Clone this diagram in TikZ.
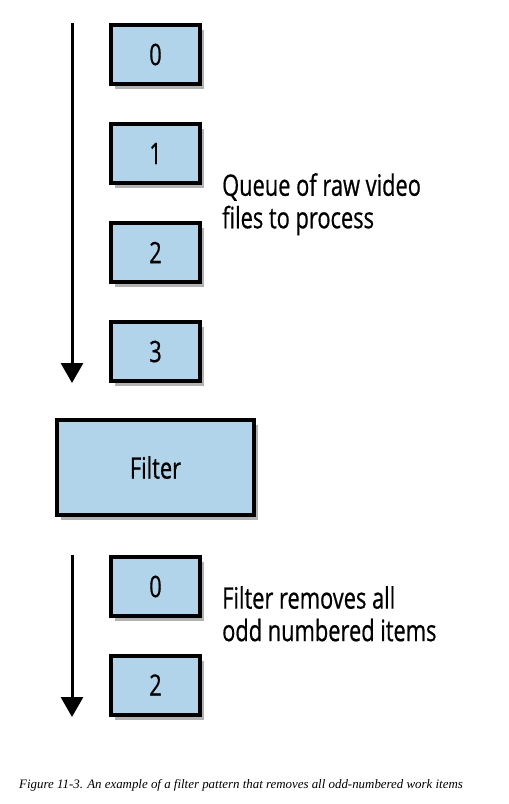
\documentclass[tikz,border=0pt]{standalone}
\usepackage{fontspec}
\setmainfont{Liberation Serif}
\newfontfamily\diafont[FakeStretch=0.74,FakeBold=0.6]{Open Sans}
\usetikzlibrary{arrows.meta,shadows}
\definecolor{boxblue}{RGB}{178,212,234}
\tikzset{
  qbox/.style={draw=black, line width=4pt, fill=boxblue,
    minimum width=89pt, minimum height=59pt, inner sep=0pt,
    font=\diafont\fontsize{29.5}{32}\selectfont,
    drop shadow={shadow xshift=4pt, shadow yshift=-5pt, opacity=0.3, fill=black}},
  filterbox/.style={qbox, minimum width=197pt, minimum height=95pt},
  flow/.style={line width=3pt, -{Triangle[width=22pt,length=20pt]}},
  note/.style={font=\diafont\fontsize{29.5}{32.5}\selectfont, align=left, anchor=north west, inner sep=0pt},
  captext/.style={font=\itshape\fontsize{12.9}{14}\selectfont, anchor=base west, inner sep=0pt}
}
\begin{document}
\begin{tikzpicture}[x=1pt,y=1pt]
\useasboundingbox (0,0) rectangle (509,-804);
\node[qbox] (a0) at (155.5,-54.5) {0};
\node[qbox] (a1) at (155.5,-153.5) {1};
\node[qbox] (a2) at (155.5,-252.5) {2};
\node[qbox] (a3) at (155.5,-351.5) {3};
\node[filterbox] (filter) at (155.5,-467.5) {Filter};
\node[qbox] (b0) at (155.5,-586.5) {0};
\node[qbox] (b2) at (155.5,-685) {2};
\coordinate (s1) at (72,-23);
\coordinate (e1) at (72,-383);
\coordinate (s2) at (72,-555);
\coordinate (e2) at (72,-717);
\draw[flow] (s1) -- (e1);
\draw[flow] (s2) -- (e2);
\node[note] (t1) at (222,-173) {Queue of raw video\\files to process};
\node[note] (t2) at (222,-586) {Filter removes all\\odd numbered items};
\node[captext] (caption) at (19,-788) {Figure 11-3. An example of a filter pattern that removes all odd-numbered work items};
\end{tikzpicture}
\end{document}
